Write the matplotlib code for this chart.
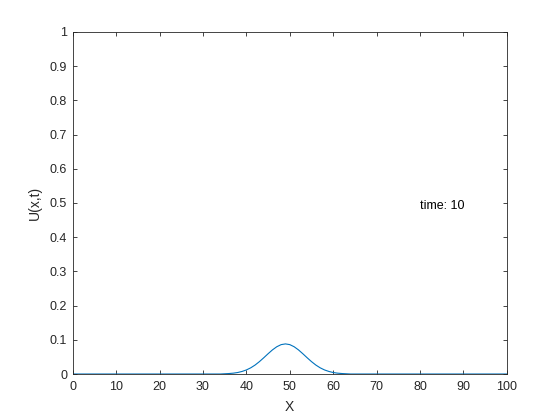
import numpy as np
import matplotlib
matplotlib.use("Agg")
import matplotlib.pyplot as plt

# U(x,t) at time 10 (zero outside 35..63)
x = list(range(0, 101))
bump_x = list(range(35, 64))
bump_u = [0.0007, 0.0014, 0.0025, 0.0044, 0.0075, 0.0119, 0.0181, 0.0262,
          0.0362, 0.0475, 0.0593, 0.0705, 0.0797, 0.0859, 0.0880, 0.0859,
          0.0797, 0.0705, 0.0593, 0.0475, 0.0362, 0.0262, 0.0181, 0.0119,
          0.0075, 0.0044, 0.0025, 0.0014, 0.0007]
u = [0.0] * len(x)
for xi, ui in zip(bump_x, bump_u):
    u[xi] = ui

x_ticks = list(range(0, 101, 10))
y_ticks = [0, 0.1, 0.2, 0.3, 0.4, 0.5, 0.6, 0.7, 0.8, 0.9, 1]
y_tick_labels = ['0', '0.1', '0.2', '0.3', '0.4', '0.5', '0.6', '0.7', '0.8', '0.9', '1']

plt.rcParams['font.family'] = ['Liberation Sans', 'DejaVu Sans']
dark = (0.15, 0.15, 0.15)

fig = plt.figure(figsize=(5.6, 4.2), dpi=100)
ax = fig.add_axes([0.13, 0.1095, 0.775, 0.8145])
ax.plot(x, u, color=(0, 0.447, 0.741), linewidth=0.8)
ax.set_xlim(0, 100)
ax.set_ylim(0, 1)
ax.set_xticks(x_ticks)
ax.set_yticks(y_ticks)
ax.set_yticklabels(y_tick_labels)
ax.tick_params(direction='in', length=3, width=0.6, colors=dark, labelsize=9,
               top=True, right=True, labeltop=False, labelright=False, pad=4)
ax.tick_params(axis='x', pad=5)
for s in ax.spines.values():
    s.set_linewidth(0.6)
    s.set_color(dark)
ax.set_xlabel('X', fontsize=10, color=dark, labelpad=5)
ax.set_ylabel('U(x,t)', fontsize=10, color=dark, labelpad=6)
ax.text(80, 0.49, 'time: 10', fontsize=9, va='center', ha='left')

fig.savefig('out.png', dpi=100)
